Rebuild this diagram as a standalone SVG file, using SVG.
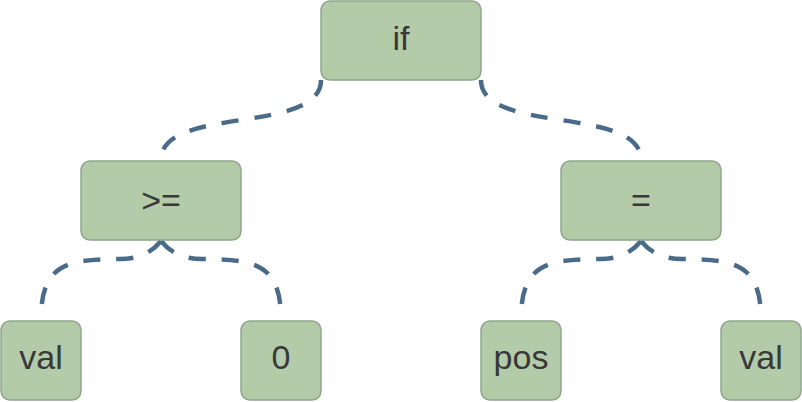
<svg xmlns="http://www.w3.org/2000/svg" width="802" height="402" viewBox="0 0 802 402">
<style>
.node rect{fill:#b3cba8;stroke:#8fa68b;stroke-width:1.5}
.node text{font-family:"Liberation Sans",Arial,sans-serif;font-size:34px;fill:#383838;text-anchor:middle}
.edge{fill:none;stroke:#4a6a8a;stroke-width:4.5;stroke-dasharray:17 16}
</style>
<rect width="802" height="402" fill="#ffffff"/>
<g id="connectors">
<path class="edge" d="M321,80 C321,135 161,105 161,160"/>
<path class="edge" d="M481,80 C481,135 641,105 641,160"/>
<path class="edge" d="M161,241 C152,252 140,259 120,259 C65,259 41,265 41,320"/>
<path class="edge" d="M161,241 C170,252 182,259 202,259 C257,259 281,265 281,320"/>
<path class="edge" d="M641,241 C632,252 620,259 600,259 C545,259 521,265 521,320"/>
<path class="edge" d="M641,241 C650,252 662,259 682,259 C737,259 761,265 761,320"/>
</g>
<g id="node-if" class="node"><rect x="321" y="1" width="160" height="79" rx="9"/><text x="401" y="50">if</text></g>
<g id="node-ge" class="node"><rect x="81" y="161" width="160" height="79" rx="9"/><text x="161" y="212">&gt;=</text></g>
<g id="node-eq" class="node"><rect x="561" y="161" width="160" height="79" rx="9"/><text x="641" y="212">=</text></g>
<g id="node-val1" class="node"><rect x="1" y="321" width="80" height="79" rx="9"/><text x="41" y="369">val</text></g>
<g id="node-zero" class="node"><rect x="241" y="321" width="80" height="79" rx="9"/><text x="281" y="369">0</text></g>
<g id="node-pos" class="node"><rect x="481" y="321" width="80" height="79" rx="9"/><text x="521" y="369">pos</text></g>
<g id="node-val2" class="node"><rect x="721" y="321" width="80" height="79" rx="9"/><text x="761" y="369">val</text></g>
</svg>
